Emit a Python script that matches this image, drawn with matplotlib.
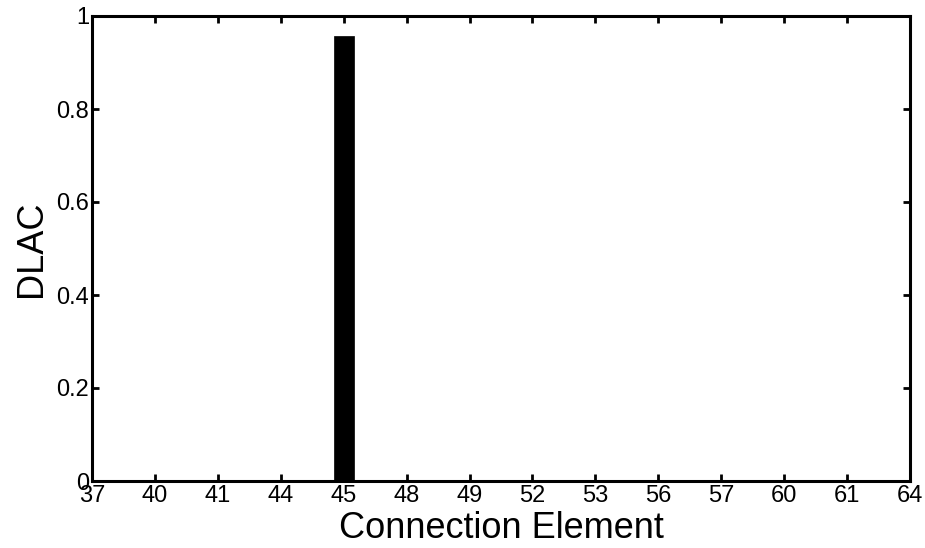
import matplotlib
matplotlib.use("Agg")
import matplotlib.pyplot as plt
import numpy as np

elements = ["37", "40", "41", "44", "45", "48", "49", "52", "53", "56", "57", "60", "61", "64"]
dlac = [0, 0, 0, 0, 0.957, 0, 0, 0, 0, 0, 0, 0, 0, 0]

plt.rcParams['font.family'] = ['Liberation Sans', 'DejaVu Sans']

fig = plt.figure(figsize=(9.25, 5.48), dpi=100)
ax = fig.add_axes([92/925, 1 - 481/548, (910-92)/925, (481-16)/548])

pos = np.arange(1, len(elements) + 1)
ax.bar(pos, dlac, width=0.32, color='black', edgecolor='black', linewidth=0.5)

ax.set_xlim(1, len(elements))
ax.set_ylim(0, 1)
ax.set_xticks(pos)
ax.set_xticklabels(elements)
ax.set_yticks([0, 0.2, 0.4, 0.6, 0.8, 1])
ax.set_yticklabels(["0", "0.2", "0.4", "0.6", "0.8", "1"])

for s in ax.spines.values():
    s.set_linewidth(2.2)
ax.tick_params(direction='in', length=5, width=2, top=True, right=True,
               labelsize=17, pad=2)
ax.tick_params(axis='x', pad=3)

ax.set_xlabel("Connection Element", fontsize=26, labelpad=3)
ax.set_ylabel("DLAC", fontsize=26, labelpad=5)

fig.savefig("out.png", dpi=100)
